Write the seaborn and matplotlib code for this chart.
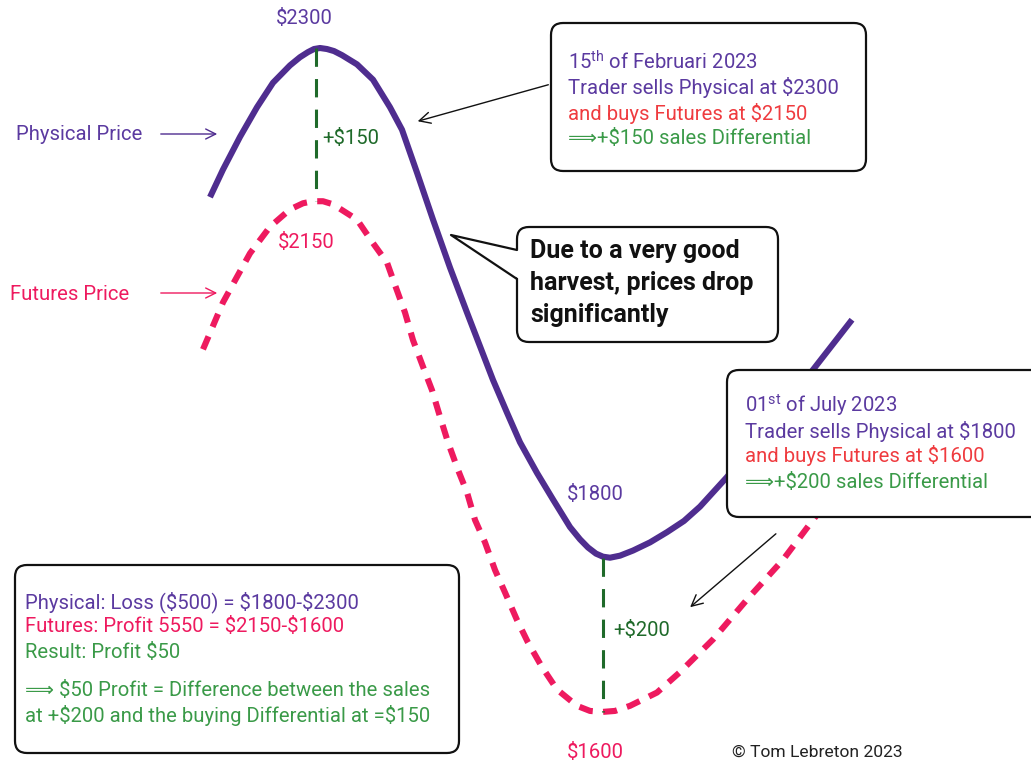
import matplotlib
matplotlib.use("Agg")
import matplotlib.pyplot as plt
import seaborn as sns
import pandas as pd
from matplotlib.patches import FancyBboxPatch, Polygon
from matplotlib.transforms import Affine2D

# === DATA (position along the season, price in $) ===
phys_x = [210, 223, 240, 257, 273, 290, 300, 308, 314, 320, 327, 334, 342, 357, 373, 390,
          402, 417, 433, 450, 467, 480, 493, 507, 520, 537, 553, 570, 580, 588, 596, 603,
          610, 620, 633, 650, 667, 684, 700, 727, 770, 813, 852]
phys_price = [2153, 2180, 2212, 2241, 2265, 2282, 2290, 2295, 2298, 2299, 2298, 2296, 2292,
              2283, 2268, 2241, 2219, 2177, 2131, 2084, 2040, 2007, 1974, 1942, 1913, 1883,
              1857, 1830, 1818, 1810, 1804, 1801, 1800, 1802, 1807, 1815, 1825, 1836, 1850,
              1879, 1931, 1984, 2033]

fut_x = [203, 223, 237, 250, 270, 290, 303, 313, 323, 333, 357, 373, 387, 395, 405, 413,
         423, 432, 440, 448, 458, 467, 475, 485, 495, 505, 517, 528, 542, 557, 577, 590,
         602, 615, 630, 657, 680, 713, 747, 783, 813, 840]
fut_price = [2004, 2050, 2075, 2098, 2124, 2141, 2147, 2149, 2149, 2146, 2131, 2108, 2089,
             2067, 2040, 2013, 1987, 1964, 1938, 1913, 1886, 1864, 1837, 1815, 1788, 1766,
             1739, 1717, 1693, 1671, 1655, 1650, 1649, 1650, 1655, 1668, 1688, 1720, 1759,
             1798, 1837, 1871]

PURPLE = "#4f2d8f"
PURPLE_TXT = "#5b3aa0"
PINK = "#ee1a5f"
RED = "#ef3b3f"
GREEN = "#3a9a48"
DKGREEN = "#1f6a2a"

W, H = 1031, 762
FS = 14.6
sns.set_theme(style="white")
plt.rcParams["font.family"] = ["Roboto", "DejaVu Sans"]
plt.rcParams["mathtext.fontset"] = "custom"
plt.rcParams["mathtext.rm"] = "Roboto"

fig = plt.figure(figsize=(W / 100, H / 100), dpi=100)
ax = fig.add_axes([0, 0, 1, 1])
ax.set_xlim(0, W)
ax.set_ylim(1600, 2346)
ax.axis("off")

# pixel transform for annotations (y downward)
pix = Affine2D().scale(1 / W, -1 / H).translate(0, 1) + fig.transFigure

phys = pd.DataFrame({"x": phys_x, "price": phys_price})
fut = pd.DataFrame({"x": fut_x, "price": fut_price})

sns.lineplot(data=phys, x="x", y="price", ax=ax, color=PURPLE, lw=4.4,
             solid_capstyle="butt", solid_joinstyle="round", zorder=3)
sns.lineplot(data=fut, x="x", y="price", ax=ax, color=PINK, lw=4.4,
             linestyle=(0, (2.3, 1.7)), dash_capstyle="butt", dash_joinstyle="round", zorder=3)

# differentials (peak -> peak, trough -> trough)
top_x, bot_x = 316, 603
for xv, y0, y1 in [(top_x, phys["price"].max(), fut["price"].max()),
                   (bot_x, phys["price"].min(), fut["price"].min())]:
    ax.plot([xv, xv], [y0, y1], color=DKGREEN, lw=2.2, linestyle=(0, (6, 4)), zorder=4)


def txt(x, y, s, color, size=FS, math=False, **kw):
    ax.text(x, y, s, transform=pix, color=color, fontsize=size, va="center",
            parse_math=math, **kw)


# price labels
txt(304, 19, "$2300", PURPLE_TXT, ha="center")
txt(322, 138, "+$150", DKGREEN)
txt(306, 242, "$2150", PINK, ha="center")
txt(595, 495, "$1800", PURPLE_TXT, ha="center")
txt(613, 630, "+$200", DKGREEN)
txt(595, 752, "$1600", PINK, ha="center")
txt(732, 752, "\u00a9 Tom Lebreton 2023", "#222222", size=12.6)

# series labels
txt(16, 134, "Physical Price", PURPLE_TXT)
txt(10, 294, "Futures Price", PINK)
for yy, c in [(134, PURPLE), (293, PINK)]:
    ax.annotate("", xy=(220, yy), xytext=(158, yy), xycoords=pix, textcoords=pix,
                arrowprops=dict(arrowstyle="->", color=c, lw=1, mutation_scale=18))


def box(x0, y0, x1, y1):
    p = FancyBboxPatch((x0, y0), x1 - x0, y1 - y0, boxstyle="round,pad=0,rounding_size=12",
                       transform=pix, facecolor="white", edgecolor="#111111", lw=1.6, zorder=5)
    ax.add_patch(p)


# February box
box(551, 23, 866, 171)
txt(568, 62, "15$^{\\mathrm{th}}$ of Februari 2023", PURPLE_TXT, math=True, zorder=6)
txt(568, 88, "Trader sells Physical at $2300", PURPLE_TXT, zorder=6)
txt(568, 113, "and buys Futures at $2150", RED, zorder=6)
txt(568, 139, "\u27f9+$150 sales Differential", GREEN, zorder=6)
ax.annotate("", xy=(415, 122), xytext=(551, 84), xycoords=pix, textcoords=pix,
            arrowprops=dict(arrowstyle="->", color="#111111", lw=1, mutation_scale=20))

# speech bubble
box(517, 227, 778, 342)
ax.add_patch(Polygon([(519, 250), (451, 235), (519, 279)], closed=True, transform=pix,
                     facecolor="white", edgecolor="none", zorder=6))
ax.plot([517, 451, 517], [250, 235, 279], transform=pix, color="#111111", lw=1.6, zorder=7)
for yy, s in [(251, "Due to a very good"), (283, "harvest, prices drop"), (315, "significantly")]:
    txt(530, yy, s, "#111111", size=18, fontweight="bold", zorder=7)

# July box
box(727, 370, 1045, 517)
txt(745, 405, "01$^{\\mathrm{st}}$ of July 2023", PURPLE_TXT, math=True, zorder=6)
txt(745, 431, "Trader sells Physical at $1800", PURPLE_TXT, zorder=6)
txt(745, 456, "and buys Futures at $1600", RED, zorder=6)
txt(745, 482, "\u27f9+$200 sales Differential", GREEN, zorder=6)
ax.annotate("", xy=(688, 609), xytext=(778, 532), xycoords=pix, textcoords=pix,
            arrowprops=dict(arrowstyle="->", color="#111111", lw=1, mutation_scale=20))

# summary box
box(15, 565, 459, 753)
txt(25, 602, "Physical: Loss ($500) = $1800-$2300", PURPLE_TXT, zorder=6)
txt(25, 627, "Futures: Profit 5550 = $2150-$1600", PINK, zorder=6)
txt(25, 652, "Result: Profit $50", GREEN, zorder=6)
txt(25, 690, "\u27f9 $50 Profit = Difference between the sales", GREEN, zorder=6)
txt(25, 715, "at +$200 and the buying Differential at =$150", GREEN, zorder=6)

fig.savefig("out.png", dpi=100, facecolor="white")
